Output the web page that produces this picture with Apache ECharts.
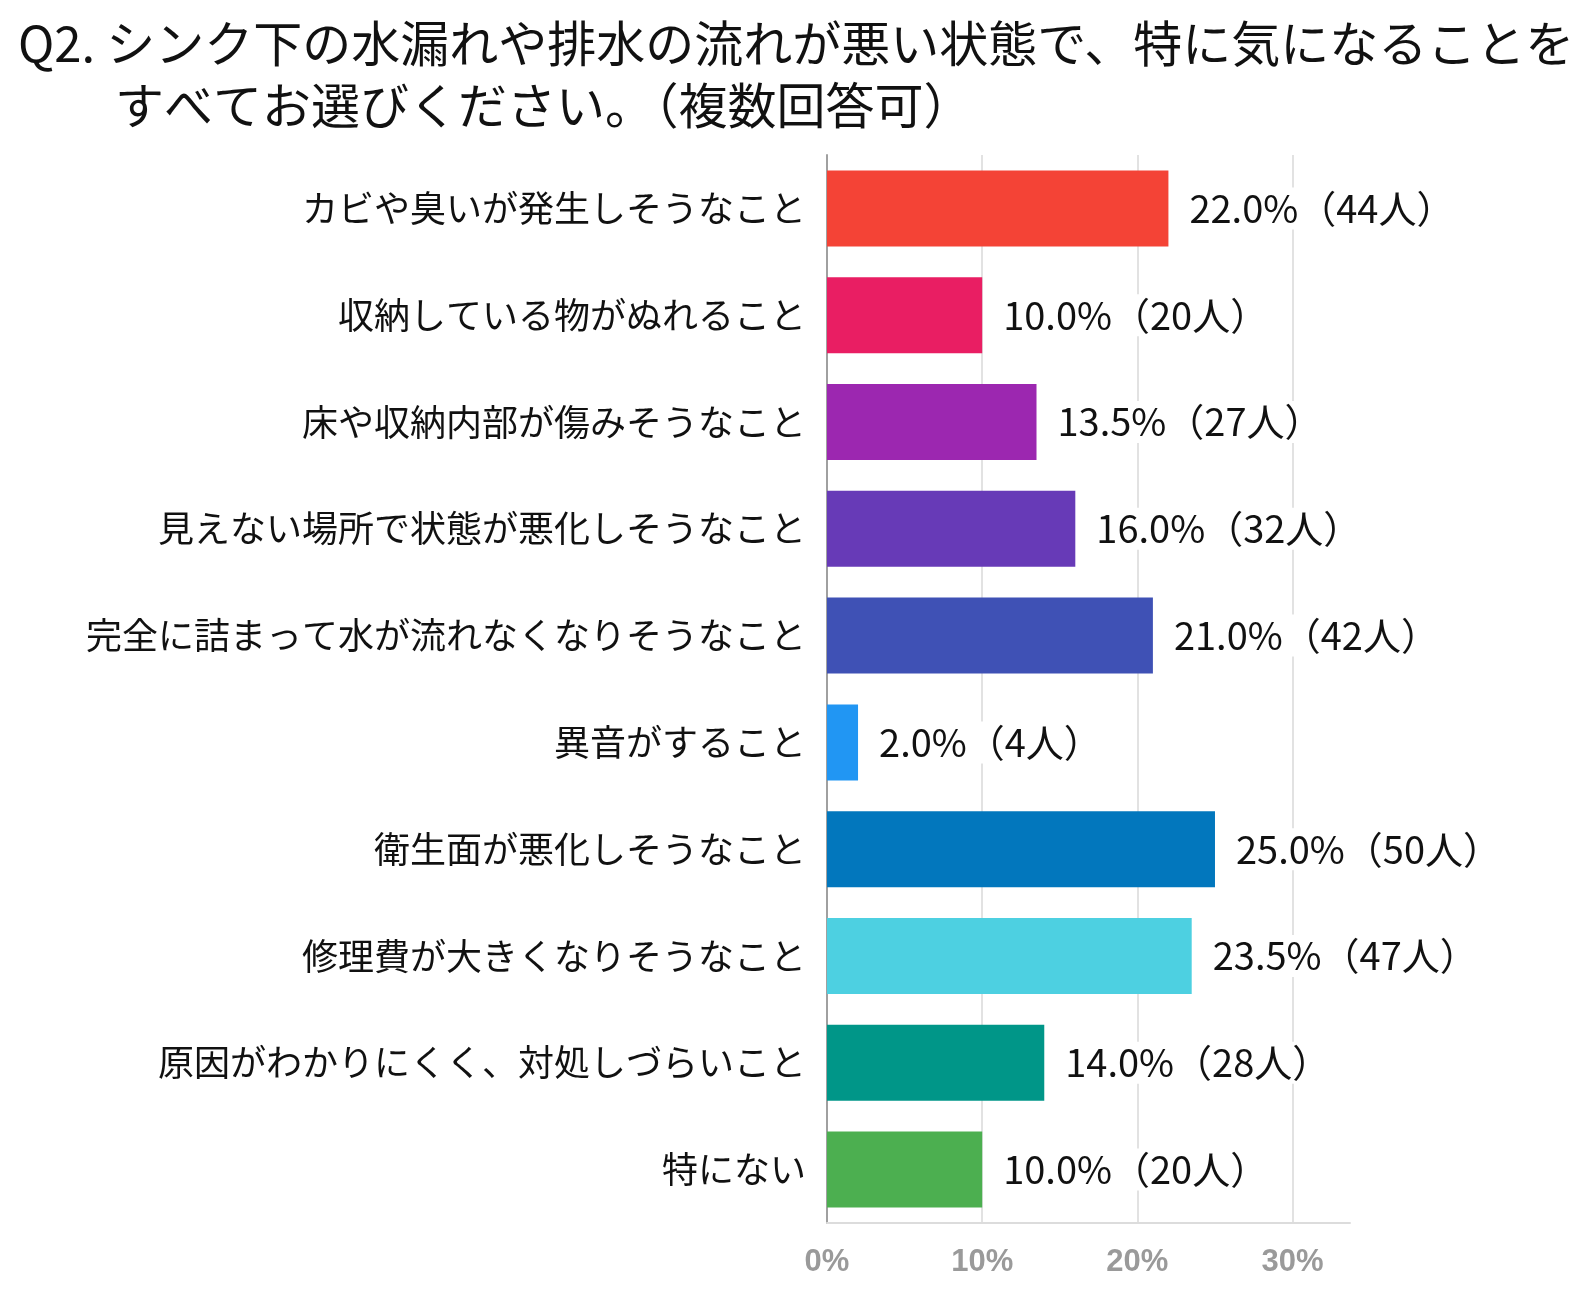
<!DOCTYPE html>
<html>
<head>
<meta charset="utf-8">
<style>
html,body{margin:0;padding:0;background:#fff;overflow:hidden;width:100%;height:100%;}
#chart{width:100vw;height:100vh;}
</style>
<script src="https://cdn.jsdelivr.net/npm/echarts@6/dist/echarts.min.js"></script>
</head>
<body>
<div id="chart"></div>
<script>
const titleLine1 = 'Q2. シンク下の水漏れや排水の流れが悪い状態で、特に気になることを';
const titleLine2 = 'すべてお選びください。（複数回答可）';
const categories = [
  'カビや臭いが発生しそうなこと',
  '収納している物がぬれること',
  '床や収納内部が傷みそうなこと',
  '見えない場所で状態が悪化しそうなこと',
  '完全に詰まって水が流れなくなりそうなこと',
  '異音がすること',
  '衛生面が悪化しそうなこと',
  '修理費が大きくなりそうなこと',
  '原因がわかりにくく、対処しづらいこと',
  '特にない'
];
const percents = [22.0, 10.0, 13.5, 16.0, 21.0, 2.0, 25.0, 23.5, 14.0, 10.0];
const counts = [44, 20, 27, 32, 42, 4, 50, 47, 28, 20];
const colors = ['#F44336','#E91E63','#9C27B0','#673AB7','#3F51B5','#2196F3','#0277BD','#4DD0E1','#009688','#4CAF50'];
const xTicks = [0, 10, 20, 30];

const font = '"Noto Sans CJK JP", "Noto Sans", sans-serif';
const chart = echarts.init(document.getElementById('chart'));
chart.setOption({
  backgroundColor: '#fff',
  animation: false,
  title: [
    {text: titleLine1, left: 13, top: 14, textStyle: {fontFamily: font, fontSize: 49, fontWeight: 'normal', color: '#111'}},
    {text: titleLine2, left: 110, top: 76, textStyle: {fontFamily: font, fontSize: 49, fontWeight: 'normal', color: '#111'}}
  ],
  grid: {left: 827, right: 230, top: 155, bottom: 79, containLabel: false},
  xAxis: {
    type: 'value', min: 0, max: 33.7, interval: 10,
    axisLine: {show: true, lineStyle: {color: '#dcdcdc', width: 2}},
    axisTick: {show: false},
    splitLine: {show: true, showMaxLine: false, lineStyle: {color: '#e2e2e2', width: 2}},
    axisLabel: {
      margin: 24, showMaxLabel: false, color: '#9a9a9a', fontSize: 31, fontWeight: 'bold',
      fontFamily: 'Arial, "Liberation Sans", sans-serif',
      formatter: v => xTicks.includes(v) ? v + '%' : ''
    }
  },
  yAxis: {
    type: 'category', inverse: true, data: categories,
    axisLine: {show: true, lineStyle: {color: '#a0a0a0', width: 2}},
    axisTick: {show: false},
    axisLabel: {margin: 21, color: '#111', fontSize: 36, fontFamily: font}
  },
  series: [{
    type: 'bar',
    barCategoryGap: '28.8%',
    data: percents.map((v, i) => ({value: v, itemStyle: {color: colors[i]}})),
    label: {
      show: true, position: 'right', distance: 17,
      backgroundColor: '#fff', padding: [2, 4],
      color: '#111', fontSize: 38, fontFamily: font,
      formatter: p => p.value.toFixed(1) + '%（' + counts[p.dataIndex] + '人）'
    }
  }]
});
</script>
</body>
</html>
